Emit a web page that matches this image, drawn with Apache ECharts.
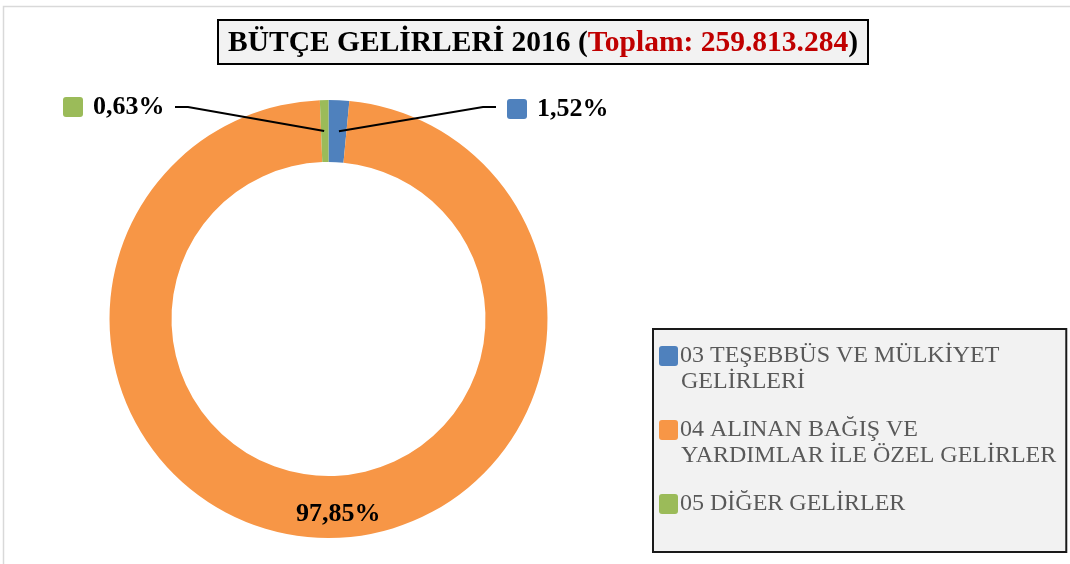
<!DOCTYPE html>
<html><head><meta charset="utf-8">
<script src="https://cdn.jsdelivr.net/npm/echarts@6/dist/echarts.min.js"></script>
<style>html,body{margin:0;padding:0;background:#fff}#c{width:1070px;height:564px}</style>
</head><body><div id="c"></div>
<script>
const categories = ['03 TEŞEBBÜS VE MÜLKİYET\nGELİRLERİ', '04 ALINAN BAĞIŞ VE\nYARDIMLAR İLE ÖZEL GELİRLER', '05 DİĞER GELİRLER'];
const shares = [1.52, 97.85, 0.63];
const colors = ['#4F81BD', '#F79646', '#9BBB59'];
const titleMain = 'BÜTÇE GELİRLERİ 2016 (';
const titleTotal = 'Toplam: 259.813.284';
const titleEnd = ')';

const FONT = 'Liberation Serif, Times New Roman, serif';
const fmt = v => v.toFixed(2).replace('.', ',') + '%';

const legendRich = { t: { fontFamily: FONT, fontSize: 24, color: '#595959', lineHeight: 26 }, s: { width: 22, height: 20 }, g: { width: 2, height: 20 } };
const labelRich = {
  v: { fontFamily: FONT, fontSize: 26, fontWeight: 'bold', color: '#000', padding: [0, 0, 0, 10] },
  o: { fontFamily: FONT, fontSize: 26, fontWeight: 'bold', color: '#000' }
};
colors.forEach((c, i) => {
  legendRich['m' + i] = { width: 19, height: 20, backgroundColor: c, borderRadius: 3 };
  labelRich['m' + i] = { width: 20, height: 20, backgroundColor: c, borderRadius: 3 };
});

const pieCenter = [328.5, 319];
const pieRadius = [157, 219];

const chart = echarts.init(document.getElementById('c'));
chart.setOption({
  animation: false,
  color: colors,
  graphic: [{
    type: 'rect', silent: true, z: -10,
    shape: { x: 3.5, y: 6.5, width: 1100, height: 600 },
    style: { fill: 'none', stroke: '#d9d9d9', lineWidth: 1.5 }
  }],
  title: {
    text: '{a|' + titleMain + '}{b|' + titleTotal + '}{a|' + titleEnd + '}',
    left: 218, top: 20,
    backgroundColor: '#f2f2f2', borderColor: '#000', borderWidth: 2,
    padding: [8, 10, 6, 10],
    textStyle: {
      rich: {
        a: { fontFamily: FONT, fontSize: 29.5, fontWeight: 'bold', color: '#000' },
        b: { fontFamily: FONT, fontSize: 29.5, fontWeight: 'bold', color: '#C00000' }
      }
    }
  },
  legend: {
    orient: 'vertical', left: 653, top: 329,
    icon: 'none', itemWidth: 1, itemHeight: 1, itemGap: 24,
    backgroundColor: '#f2f2f2', borderColor: '#1a1a1a', borderWidth: 2,
    padding: [15, 10, 36, 0],
    selectedMode: false,
    data: categories,
    formatter: function (name) {
      const i = categories.indexOf(name);
      const lines = name.split('\n');
      let s = '{m' + i + '|}{g|}{t|' + lines[0] + '}';
      for (let k = 1; k < lines.length; k++) s += '\n{s|}{t|' + lines[k] + '}';
      return s;
    },
    textStyle: { rich: legendRich }
  },
  series: [{
    type: 'pie',
    z: 2,
    center: pieCenter,
    radius: pieRadius,
    startAngle: 90,
    clockwise: true,
    data: categories.map((n, i) => ({ name: n, value: shares[i] })),
    label: { show: false },
    labelLine: { show: false },
    itemStyle: { borderWidth: 0 },
    emphasis: { disabled: true }
  }, {
    // transparent overlay carrying the data labels and leader lines above the ring
    type: 'pie',
    z: 3,
    silent: true,
    center: pieCenter,
    radius: pieRadius,
    startAngle: 90,
    clockwise: true,
    avoidLabelOverlap: false,
    data: categories.map((n, i) => ({
      name: n, value: shares[i],
      label: i === 1 ? { position: 'inside' } : { position: 'outside' },
      labelLine: { show: i !== 1 }
    })),
    itemStyle: { color: 'rgba(0,0,0,0)', borderWidth: 0 },
    label: {
      formatter: function (p) {
        if (p.dataIndex === 1) return '{o|' + fmt(p.value) + '}';
        return '{m' + p.dataIndex + '|}{v|' + fmt(p.value) + '}';
      },
      rich: labelRich
    },
    labelLine: { lineStyle: { color: '#000', width: 2 }, length: 10, length2: 10 },
    labelLayout: function (p) {
      const cx = p.rect.x + p.rect.width / 2, cy = p.rect.y + p.rect.height / 2;
      if (p.dataIndex === 0) return { x: 507, y: 109, align: 'left', verticalAlign: 'middle', labelLinePoints: [[cx, cy], [483, 107], [496, 107]] };
      if (p.dataIndex === 2) return { x: 63, y: 107, align: 'left', verticalAlign: 'middle', labelLinePoints: [[cx, cy], [188, 107], [175, 107]] };
      return { dx: 15, dy: 4 };
    },
    emphasis: { disabled: true }
  }]
});
</script>
</body></html>
